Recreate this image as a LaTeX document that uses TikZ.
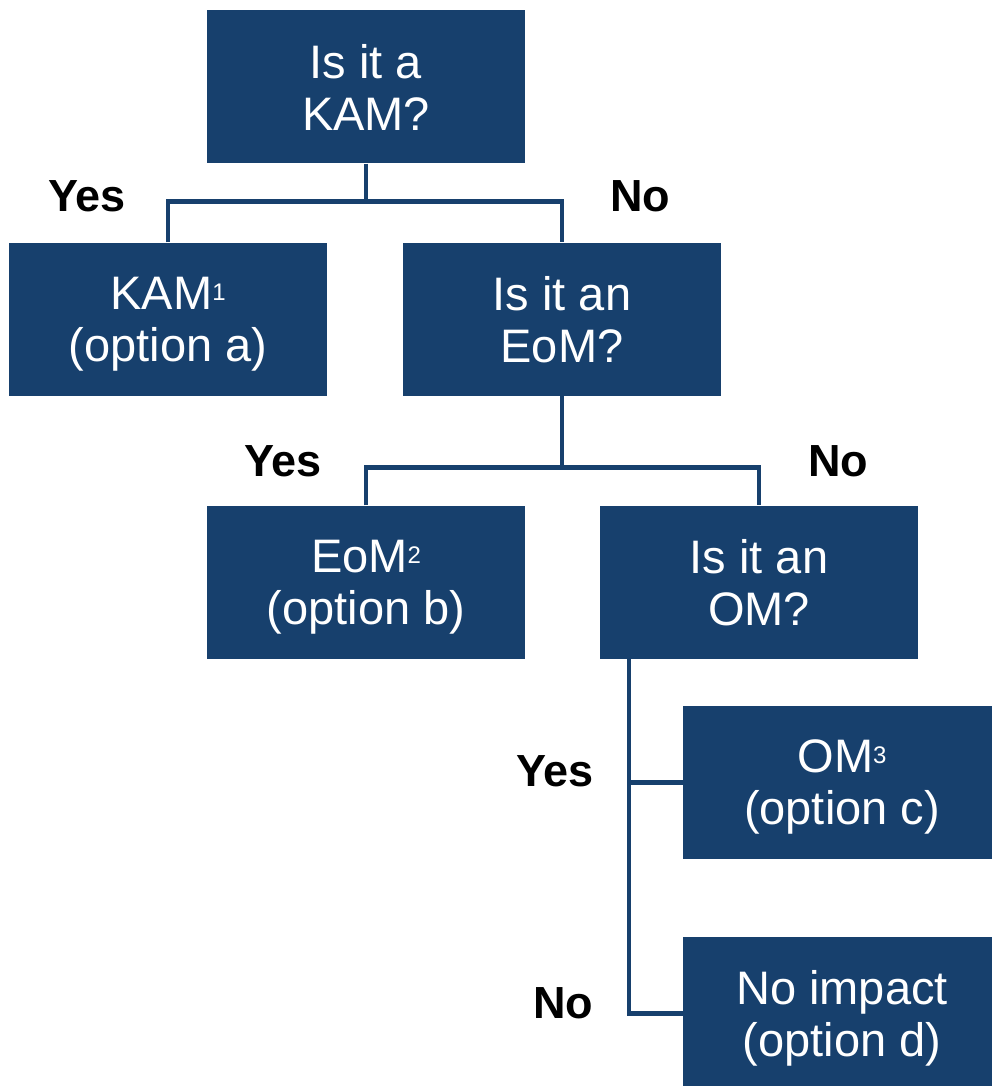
\documentclass[tikz,border=0pt]{standalone}
\usepackage{fontspec}
\setmainfont{Liberation Sans}
\definecolor{chartblue}{HTML}{17406D}
\newcommand{\BoxText}[2]{#1\\\raisebox{0pt}[\height][0pt]{#2}}
\newcommand{\NoteMark}[1]{\raisebox{9pt}{\fontsize{24}{24}\selectfont #1}}

\begin{document}
\begin{tikzpicture}[x=1pt,y=-1pt,
    question/.style={rectangle, fill=chartblue, text=white, inner sep=0pt,
      minimum width=318pt, minimum height=153pt, align=center,
      font=\fontsize{47}{52}\selectfont},
    answer/.style={inner sep=0pt, font=\fontsize{45}{50}\selectfont\bfseries},
    link/.style={draw=chartblue, line width=4.5pt}]
    \useasboundingbox (0,0) rectangle (991,1086);
    \node[question] (kam)  at (366,87)     {\BoxText{Is it a}{KAM?}};
    \node[question] (optA) at (168,319)    {\BoxText{KAM\NoteMark{1}}{(option a)}};
    \node[question] (eom)  at (562,319)    {\BoxText{Is it an}{EoM?}};
    \node[question] (optB) at (366,582)    {\BoxText{EoM\NoteMark{2}}{(option b)}};
    \node[question] (om)   at (759,582)    {\BoxText{Is it an}{OM?}};
    \node[question] (optC) at (842,782.5)  {\BoxText{OM\NoteMark{3}}{(option c)}};
    \node[question] (optD) at (842,1013.5) {\BoxText{No impact}{(option d)}};
    %
    \node[answer] (yesA) at (87,196.5)  {Yes};
    \node[answer] (noA)  at (640,196.5) {No};
    \node[answer] (yesB) at (283,461)   {Yes};
    \node[answer] (noB)  at (838,461)   {No};
    \node[answer] (yesC) at (555,771)   {Yes};
    \node[answer] (noC)  at (563,1003)  {No};
    %
    \draw[link] (kam.south) -- ++(0,38) coordinate (splitA);
    \draw[link] (optA.north) |- (splitA) -| (eom.north);
    \draw[link] (eom.south) -- ++(0,72) coordinate (splitB);
    \draw[link] (optB.north) |- (splitB) -| (om.north);
    \coordinate (splitC) at ([xshift=29pt]om.south west);
    \draw[link] (splitC) |- (optC.west);
    \draw[link] (splitC) |- (optD.west);
\end{tikzpicture}
\end{document}
